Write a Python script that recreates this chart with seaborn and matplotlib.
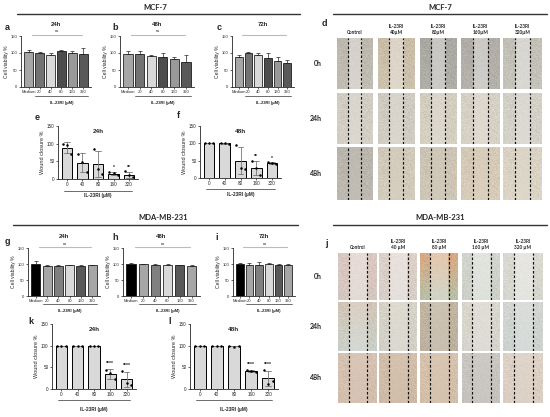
import numpy as np
import pandas as pd
import matplotlib
matplotlib.use("Agg")
import matplotlib.pyplot as plt
import matplotlib.colors as mcolors
import seaborn as sns
from matplotlib.lines import Line2D

# ---------------- data ----------------
viab_doses = ["Medium", "20", "40", "80", "160", "320"]
wound_doses = ["0", "40", "80", "160", "320"]

mcf_viab_24 = [104, 100, 95, 106, 100, 98]
mcf_viab_24_sd = [4, 4, 4, 2, 5, 18]
mcf_viab_48 = [97, 96, 92, 88, 82, 74]
mcf_viab_48_sd = [10, 10, 2, 12, 6, 20]
mcf_viab_72 = [89, 100, 93, 84, 77, 71]
mcf_viab_72_sd = [6, 4, 8, 15, 10, 8]

mda_viab_24 = [100, 95, 94, 96, 93, 96]
mda_viab_24_sd = [8, 3, 2, 2, 3, 2]
mda_viab_48 = [100, 99, 98, 98, 96, 95]
mda_viab_48_sd = [2, 1, 2, 1, 2, 3]
mda_viab_72 = [99, 98, 98, 100, 98, 96]
mda_viab_72_sd = [3, 5, 7, 2, 3, 5]

mcf_bar_colors = ["#a6a6a6", "#737373", "#d9d9d9", "#4d4d4d", "#999999", "#595959"]
mda_bar_colors = ["#000000", "#a6a6a6", "#808080", "#d9d9d9", "#595959", "#a6a6a6"]

# wound closure replicates (3 per dose)
mcf_wound_24 = [[100, 95, 70], [72, 48, 20], [85, 27, 15], [20, 16, 10], [22, 10, 5]]
mcf_wound_48 = [[100, 100, 100], [100, 100, 99], [95, 30, 25], [50, 30, 10], [45, 42, 40]]
mda_wound_24 = [[100, 100, 100], [100, 100, 100], [99, 99, 99], [45, 38, 22], [42, 15, 10]]
mda_wound_48 = [[100, 100, 100], [100, 100, 100], [99, 98, 99], [45, 42, 40], [45, 12, 18]]

mcf_sig_24 = ["", "", "", "*", "**"]
mcf_sig_48 = ["", "", "", "**", "*"]
mda_sig_24 = ["", "", "", "****", "****"]
mda_sig_48 = ["", "", "", "****", "****"]

mcf_headers = ["Control", "IL-23RI\n40µM", "IL-23RI\n80µM", "IL-23RI\n160µM", "IL-23RI\n320µM"]
mda_headers = ["Control", "IL-23RI\n40 µM", "IL-23RI\n80 µM", "IL-23RI\n160 µM", "IL-23RI\n320 µM"]
time_rows = ["0h", "24h", "48h"]

# microscopy field tints (top colour, bottom colour), row by row
mcf_img_top = ["#bdb8ae", "#c9bda8", "#a9a8a2", "#b1ada6", "#c2bfb7",
               "#d0ccc2", "#cfcac0", "#d3cdc0", "#d6d0c4", "#d2cfc6",
               "#b9b5ac", "#d0c8b8", "#cbc3b3", "#d5c9b5", "#d9d2c3"]
mcf_img_bot = ["#c2bdb2", "#cdc2ae", "#b0aea8", "#b5b2ab", "#c6c3bb",
               "#d3cfc5", "#d2cdc3", "#d6d0c3", "#d8d2c6", "#d5d2c9",
               "#bdb9b0", "#d3cbbb", "#cec6b6", "#d8ccb8", "#dcd5c6"]
mda_img_top = ["#dac8c0", "#dcd0c8", "#d9a882", "#d2d5cd", "#dad9d2",
               "#d3c4b6", "#d6d2c6", "#c2b5a2", "#dad6ce", "#d2d5d2",
               "#d6c2b2", "#d2bea9", "#d6c2ad", "#cac6c2", "#ded2c6"]
mda_img_bot = ["#d4c6c0", "#d8cec8", "#b7c0a9", "#ccd0c8", "#d6d6cf",
               "#c9d0c9", "#d2d0c6", "#bcb19f", "#d6d4cc", "#cdd2cf",
               "#d2bead", "#cdb9a5", "#d2bea9", "#c5c2be", "#dacec2"]
row_wound_light = [0.35, 0.18, 0.06]

# ---------------- style ----------------
sns.set_style("white")
plt.rcParams["font.family"] = ["Liberation Sans", "DejaVu Sans"]
plt.rcParams["axes.linewidth"] = 0.6
plt.rcParams["xtick.major.width"] = 0.5
plt.rcParams["ytick.major.width"] = 0.5
plt.rcParams["xtick.major.size"] = 1.5
plt.rcParams["ytick.major.size"] = 1.5
plt.rcParams["xtick.major.pad"] = 1
plt.rcParams["ytick.major.pad"] = 1

W, H = 550, 417
fig = plt.figure(figsize=(5.5, 4.17), dpi=100)


def box(x0, y0, x1, y1):
    return [x0 / W, 1 - y1 / H, (x1 - x0) / W, (y1 - y0) / H]


def ftext(x, y, s, **kw):
    fig.text(x / W, 1 - y / H, s, **kw)


def hline(x0, x1, y, lw=1.0, color="#333333"):
    fig.add_artist(Line2D([x0 / W, x1 / W], [1 - y / H, 1 - y / H],
                          color=color, lw=lw, transform=fig.transFigure))


def style_axes(ax, ylabel):
    ax.set_ylim(0, 150)
    ax.set_yticks([0, 50, 100, 150])
    ax.tick_params(axis="both", labelsize=3, direction="out", left=True, bottom=True)
    ax.set_xlabel("")
    ax.set_ylabel(ylabel, fontsize=3.6, labelpad=1.5)
    sns.despine(ax=ax)


def dose_bar(ax, start, stop, y_line, y_text, fs=3.3):
    tr = ax.get_xaxis_transform()
    ax.plot([start, stop], [y_line, y_line], color="#555555", lw=0.6,
            transform=tr, clip_on=False)
    ax.text((start + stop) / 2, y_text, "IL-23RI (µM)", transform=tr,
            ha="center", va="center", fontsize=fs, fontweight="bold")


def viability_panel(rect, means, sds, colors, title, ns=True):
    ax = fig.add_axes(box(*rect))
    df = pd.DataFrame({"dose": viab_doses, "viability": means})
    sns.barplot(data=df, x="dose", y="viability", hue="dose", palette=colors,
                order=viab_doses, errorbar=None, width=0.8, edgecolor="black",
                linewidth=0.5, legend=False, ax=ax)
    pos = np.arange(len(viab_doses))
    ax.errorbar(pos, means, yerr=[np.zeros(len(sds)), sds], fmt="none",
                ecolor="#222222", elinewidth=0.5, capsize=1.2, capthick=0.5)
    style_axes(ax, "Cell viability %")
    ax.set_title(title, fontsize=4.3, fontweight="bold", pad=7)
    ax.plot([0.3, 4.9], [1.02, 1.02], color="#bbbbbb", lw=0.8,
            transform=ax.get_xaxis_transform(), clip_on=False)
    if ns:
        ax.text(2.6, 1.05, "ns", transform=ax.get_xaxis_transform(),
                ha="center", va="bottom", fontsize=3)
    dose_bar(ax, 0.6, 5.4, -0.17, -0.31, fs=3)
    return ax


def wound_panel(rect, reps, sig, title, line_y, text_y):
    ax = fig.add_axes(box(*rect))
    rows = []
    for d, vals in zip(wound_doses, reps):
        for r, v in enumerate(vals):
            rows.append({"dose": d, "rep": f"r{r}", "closure": v})
    df = pd.DataFrame(rows)
    sns.barplot(data=df, x="dose", y="closure", order=wound_doses, errorbar="sd",
                color="#d9d9d9", edgecolor="black", linewidth=0.7, width=0.68,
                capsize=0.35, err_kws={"color": "#777777", "linewidth": 0.6}, ax=ax)
    sns.stripplot(data=df, x="dose", y="closure", order=wound_doses, hue="rep",
                  dodge=True, jitter=False, palette=["black"] * 3, size=1.8,
                  legend=False, ax=ax)
    style_axes(ax, "Wound closure %")
    ax.tick_params(labelsize=3.3)
    ax.set_ylabel("Wound closure %", fontsize=4, labelpad=1.5)
    ax.set_title(title, fontsize=4.6, fontweight="bold", pad=-5)
    stats = df.groupby("dose", sort=False)["closure"]
    for i, d in enumerate(wound_doses):
        if sig[i]:
            top = max(stats.mean()[d] + stats.std()[d], stats.max()[d])
            ax.text(i, top + 12, sig[i], ha="center", va="center", fontsize=3.6,
                    fontweight="bold")
    dose_bar(ax, -0.2, 4.2, line_y, text_y, fs=3.4)
    return ax


def cell_image(top, bot, light, lines, h=52, w=40):
    yy, xx = np.mgrid[0:h, 0:w]
    t = np.array(mcolors.to_rgb(top))
    b = np.array(mcolors.to_rgb(bot))
    frac = (yy / (h - 1))[..., None]
    img = t * (1 - frac) + b * frac
    band = ((xx / w > lines[0]) & (xx / w < lines[1]))[..., None]
    img = np.where(band, img + (1 - img) * light, img)
    # fine grain so the fields look like a cell layer, not flat fills
    grain = np.sin(xx * 12.9898 + yy * 78.233) * 43758.5453
    grain = (grain - np.floor(grain)) - 0.5
    amp = np.where(band[..., 0], 0.03, 0.07)
    return np.clip(img + (grain * amp)[..., None], 0, 1)


def micro_grid(cols, rows, tops, bots, lines, headers, header_y):
    for r, (y0, y1) in enumerate(rows):
        for c, (x0, x1) in enumerate(cols):
            k = r * len(cols) + c
            ax = fig.add_axes(box(x0, y0, x1, y1))
            ax.imshow(cell_image(tops[k], bots[k], row_wound_light[r], lines),
                      aspect="auto", extent=(0, 1, 0, 1), interpolation="nearest")
            for lx in lines:
                ax.axvline(lx, color="#111111", lw=0.85, ls=(0, (2.2, 1.6)))
            ax.set_axis_off()
        ftext(322, (y0 + y1) / 2, time_rows[r], ha="right", va="center",
              fontsize=5, fontweight="bold", family=["Lato", "DejaVu Sans"])
    for c, (x0, x1) in enumerate(cols):
        ftext((x0 + x1) / 2, header_y, headers[c], ha="center", va="bottom",
              fontsize=3.4, fontweight="bold", linespacing=1.3,
              family=["Lato", "DejaVu Sans"])


# ---------------- MCF-7 ----------------
ftext(155, 8, "MCF-7", ha="center", va="center", fontsize=5.5, fontweight="bold",
      family=["Lato", "DejaVu Sans"])
hline(17, 300, 14)
ftext(440, 8, "MCF-7", ha="center", va="center", fontsize=5.5, fontweight="bold",
      family=["Lato", "DejaVu Sans"])
hline(333, 547, 14)

viability_panel((21, 36, 91, 87), mcf_viab_24, mcf_viab_24_sd, mcf_bar_colors, "24h")
viability_panel((120, 36, 194, 87), mcf_viab_48, mcf_viab_48_sd, mcf_bar_colors, "48h")
viability_panel((232, 36, 294, 87), mcf_viab_72, mcf_viab_72_sd, mcf_bar_colors, "72h", ns=False)

wound_panel((58, 126, 138, 179), mcf_wound_24, mcf_sig_24, "24h", -0.22, -0.32)
wound_panel((200, 126, 281, 178), mcf_wound_48, mcf_sig_48, "48h", -0.22, -0.32)

micro_grid([(337, 373), (378, 415), (420, 457), (461, 500), (503, 542)],
           [(38, 89), (93, 144), (147, 200)],
           mcf_img_top, mcf_img_bot, (0.3, 0.68), mcf_headers, 35)

# ---------------- MDA-MB-231 ----------------
ftext(163, 218, "MDA-MB-231", ha="center", va="center", fontsize=5.5,
      fontweight="bold", family=["Lato", "DejaVu Sans"])
hline(13, 298, 225)
ftext(440, 218, "MDA-MB-231", ha="center", va="center", fontsize=5.5,
      fontweight="bold", family=["Lato", "DejaVu Sans"])
hline(333, 547, 225)

viability_panel((28, 248, 100, 296), mda_viab_24, mda_viab_24_sd, mda_bar_colors, "24h")
viability_panel((123, 248, 200, 296), mda_viab_48, mda_viab_48_sd, mda_bar_colors, "48h")
viability_panel((233, 248, 295, 296), mda_viab_72, mda_viab_72_sd, mda_bar_colors, "72h")

wound_panel((52, 324, 136, 389), mda_wound_24, mda_sig_24, "24h", -0.17, -0.31)
wound_panel((190, 324, 278, 389), mda_wound_48, mda_sig_48, "48h", -0.17, -0.31)

micro_grid([(338, 377), (379, 417), (420, 458), (462, 500), (503, 543)],
           [(253, 300), (302, 351), (353, 403)],
           mda_img_top, mda_img_bot, (0.27, 0.75), mda_headers, 250)

# ---------------- panel letters ----------------
letters = {"a": (5, 27), "b": (112, 27), "c": (217, 27), "d": (322, 24),
           "e": (35, 118), "f": (177, 115), "g": (5, 242), "h": (112, 237),
           "i": (215, 237), "j": (325, 243), "k": (28, 322), "l": (168, 322)}
for s, (x, y) in letters.items():
    ftext(x, y, s, ha="left", va="center", fontsize=6.5, fontweight="bold")

fig.savefig("out.png", dpi=100, facecolor="white")
